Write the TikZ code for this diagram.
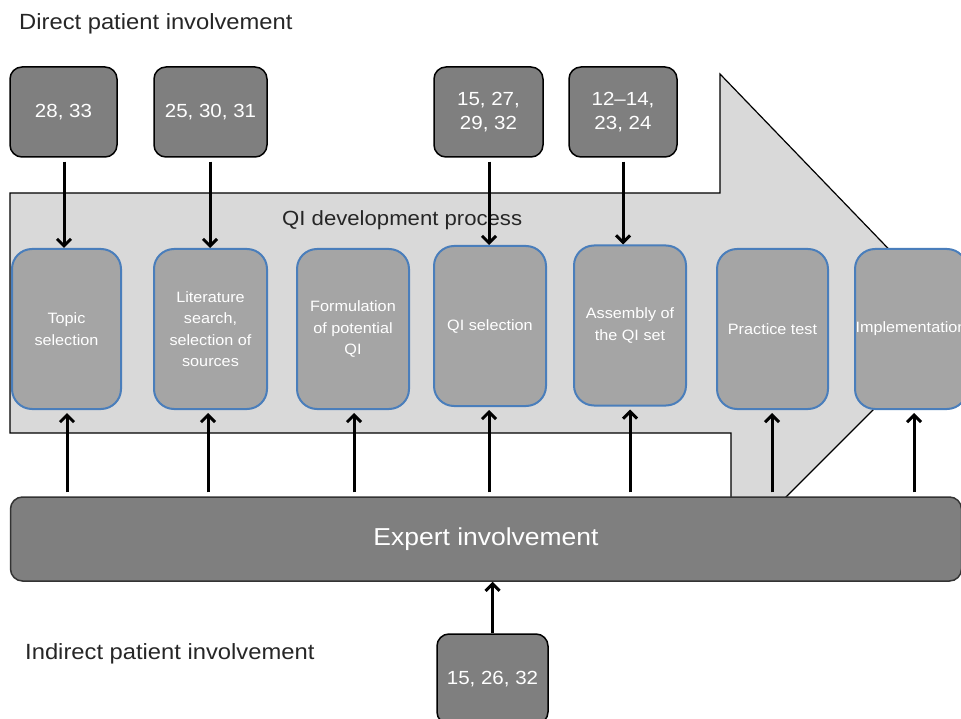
\documentclass[tikz,border=0pt]{standalone}
\usepackage{fontspec}
\setmainfont{Liberation Sans}[FakeStretch=1.08]
\usetikzlibrary{arrows.meta}
\definecolor{darkbox}{HTML}{7F7F7F}
\definecolor{midbox}{HTML}{A5A5A5}
\definecolor{blueedge}{HTML}{4A7EBB}
\definecolor{arrowfill}{HTML}{D9D9D9}
\definecolor{labeltext}{HTML}{262626}
\tikzset{
  refbox/.style={draw=black, line width=1.5pt, fill=darkbox, rounded corners=12pt,
    text=white, align=center, minimum height=90pt, inner sep=0pt,
    font=\fontsize{19}{24}\selectfont},
  stagebox/.style={draw=blueedge, line width=2pt, fill=midbox, rounded corners=20pt,
    text=white, align=center, minimum height=160pt, inner sep=0pt,
    font=\fontsize{15}{21.5}\selectfont},
  flowarrow/.style={line width=3pt, -{Straight Barb[length=7pt,width=14pt,line width=3pt]}},
  plainlabel/.style={text=labeltext, inner sep=0pt, font=\fontsize{22}{26}\selectfont}
}
\begin{document}
\begin{tikzpicture}[x=1pt,y=-1pt]
\useasboundingbox (0,0) rectangle (961,719);

% big process arrow
\draw[fill=arrowfill, line width=1.2pt, line join=miter]
  (10,193) -- (720,193) -- (720,74) -- (960,323) -- (731,552) -- (731,433) -- (10,433) -- cycle;

\node[plainlabel, anchor=base west] (qilab) at (282,226) {\fontsize{20.5}{24}\selectfont QI development process};

% labels
\node[plainlabel, anchor=base west] (direct) at (19,29.5) {Direct patient involvement};
\node[plainlabel, anchor=base west] (indirect) at (25,659) {Indirect patient involvement};

% top reference boxes
\node[refbox, minimum width=107pt] (d1) at (63.5,112) {28, 33};
\node[refbox, minimum width=113pt] (d2) at (210.5,112) {25, 30, 31};
\node[refbox, minimum width=109pt] (d3) at (488.5,112) {15, 27,\\29, 32};
\node[refbox, minimum width=108pt] (d4) at (623,112) {12--14,\\23, 24};

% stage boxes
\node[stagebox, minimum width=109pt] (m1) at (66.5,329) {Topic\\selection};
\node[stagebox, minimum width=113pt] (m2) at (210.5,329) {Literature\\search,\\selection of\\sources};
\node[stagebox, minimum width=112pt] (m3) at (353,329) {Formulation\\of potential\\QI};
\node[stagebox, minimum width=112pt] (m4) at (490,326) {QI selection};
\node[stagebox, minimum width=112pt] (m5) at (630,325.5) {Assembly of\\the QI set};
\node[stagebox, minimum width=111pt] (m6) at (772.5,329) {Practice test};
\node[stagebox, minimum width=112pt] (m7) at (911,329) {Implementation};

% expert box
\node[draw=black!80, line width=1.5pt, fill=darkbox, rounded corners=12pt, text=white,
  minimum width=951pt, minimum height=84pt, inner sep=0pt,
  font=\fontsize{24.5}{28}\selectfont] (expert) at (486,539) {Expert involvement};

% bottom reference box
\node[refbox, minimum width=111pt] (b1) at (492.5,679) {15, 26, 32};

% direct arrows
\draw[flowarrow, shorten <=4pt] (d1.south -| 64,0) -- (64,0 |- m1.north);
\draw[flowarrow, shorten <=4pt] (d2.south -| 210,0) -- (210,0 |- m2.north);
\draw[flowarrow, shorten <=4pt] (d3.south -| 489,0) -- (489,0 |- m4.north);
\draw[flowarrow, shorten <=4pt] (d4.south -| 623,0) -- (623,0 |- m5.north);

% expert arrows
\draw[flowarrow, shorten <=4pt, shorten >=3pt] (expert.north -| 67,0) -- (67,0 |- m1.south);
\draw[flowarrow, shorten <=4pt, shorten >=3pt] (expert.north -| 208,0) -- (208,0 |- m2.south);
\draw[flowarrow, shorten <=4pt, shorten >=3pt] (expert.north -| 354,0) -- (354,0 |- m3.south);
\draw[flowarrow, shorten <=4pt, shorten >=3pt] (expert.north -| 489,0) -- (489,0 |- m4.south);
\draw[flowarrow, shorten <=4pt, shorten >=3pt] (expert.north -| 630,0) -- (630,0 |- m5.south);
\draw[flowarrow, shorten <=4pt, shorten >=3pt] (expert.north -| 772,0) -- (772,0 |- m6.south);
\draw[flowarrow, shorten <=4pt, shorten >=3pt] (expert.north -| 914,0) -- (914,0 |- m7.south);

% indirect arrow
\draw[flowarrow, line width=2.2pt] (b1.north) -- (b1.north |- expert.south);
\end{tikzpicture}
\end{document}
